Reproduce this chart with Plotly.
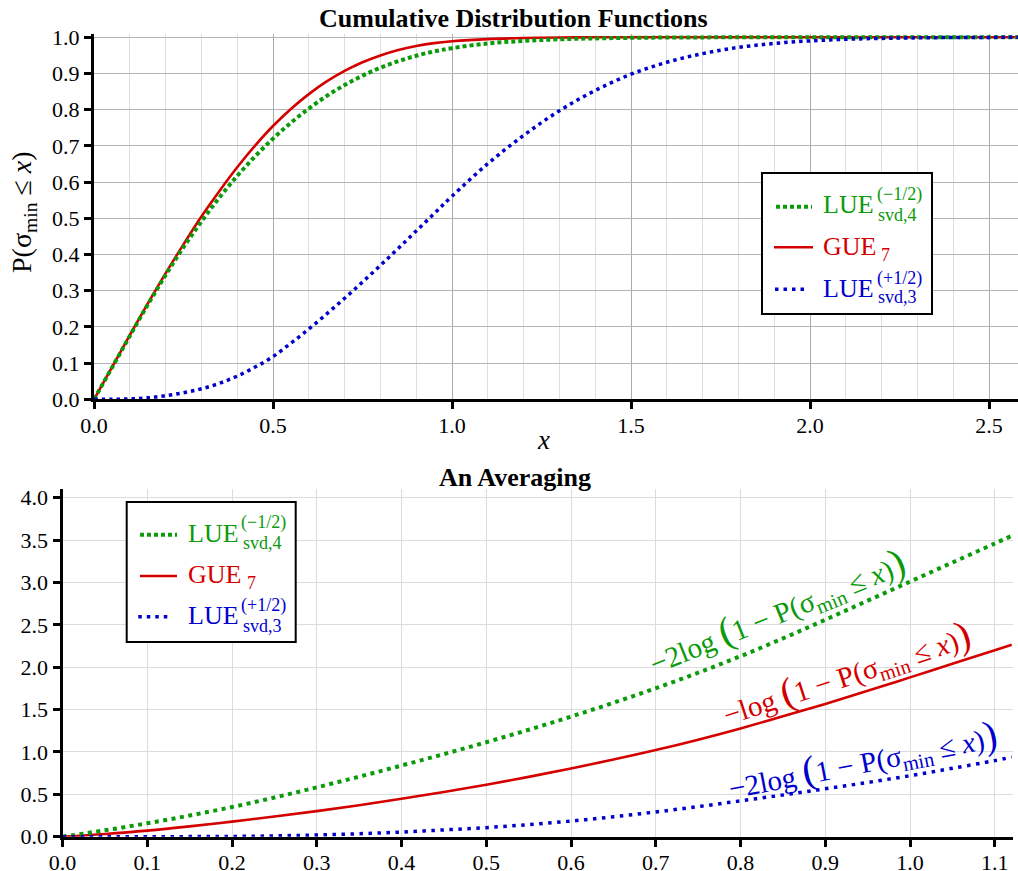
import plotly.graph_objects as go

W, H = 1018, 871
FONT = "Liberation Serif, Times New Roman, Times, serif"
TICKFONT = "serif"
GREEN = "#0a9a0a"
RED = "#d40000"
BLUE = "#0000cc"

# ---------------- data: cumulative distribution functions ----------------
x_cdf = [0.0, 0.05, 0.1, 0.15, 0.2, 0.25, 0.3, 0.35, 0.4, 0.45, 0.5, 0.55, 0.6,
         0.65, 0.7, 0.75, 0.8, 0.85, 0.9, 0.95, 1.0, 1.1, 1.2, 1.3, 1.4, 1.5,
         1.6, 1.7, 1.8, 1.9, 2.0, 2.1, 2.2, 2.3, 2.4, 2.5, 2.6]
p_gue7 = [0.0, 0.088, 0.177, 0.264, 0.348, 0.428, 0.505, 0.575, 0.641, 0.701,
          0.755, 0.802, 0.843, 0.878, 0.907, 0.931, 0.950, 0.965, 0.976, 0.984,
          0.989, 0.995, 0.998, 0.9993, 1.0, 1.0, 1.0, 1.0, 1.0, 1.0, 1.0, 1.0,
          1.0, 1.0, 1.0, 1.0, 1.0]
p_lue_m = [0.0, 0.087, 0.175, 0.261, 0.343, 0.420, 0.491, 0.557, 0.617, 0.671,
           0.720, 0.764, 0.803, 0.838, 0.868, 0.894, 0.916, 0.934, 0.949, 0.961,
           0.970, 0.983, 0.990, 0.9945, 0.997, 0.9985, 0.9993, 0.9997, 1.0, 1.0,
           1.0, 1.0, 1.0, 1.0, 1.0, 1.0, 1.0]
p_lue_p = [0.0, 0.0, 0.001, 0.004, 0.010, 0.018, 0.029, 0.044, 0.064, 0.089,
           0.118, 0.155, 0.194, 0.236, 0.279, 0.324, 0.370, 0.417, 0.465, 0.513,
           0.561, 0.651, 0.729, 0.797, 0.853, 0.898, 0.931, 0.955, 0.972, 0.983,
           0.990, 0.9945, 0.997, 0.9985, 0.9993, 0.9997, 1.0]

# ---------------- data: an averaging ----------------
x_avg = [0.0, 0.05, 0.1, 0.15, 0.2, 0.25, 0.3, 0.35, 0.4, 0.45, 0.5, 0.55, 0.6,
         0.65, 0.7, 0.75, 0.8, 0.85, 0.9, 0.95, 1.0, 1.05, 1.1, 1.12]
a_lue_m = [0.0, 0.075, 0.158, 0.25, 0.350, 0.462, 0.582, 0.708, 0.840, 0.975,
           1.115, 1.262, 1.417, 1.58, 1.752, 1.935, 2.13, 2.34, 2.56, 2.785,
           3.01, 3.235, 3.46, 3.55]
a_gue7 = [0.0, 0.032, 0.072, 0.122, 0.178, 0.238, 0.302, 0.372, 0.447, 0.527,
          0.613, 0.706, 0.805, 0.91, 1.022, 1.145, 1.278, 1.42, 1.567, 1.722,
          1.88, 2.04, 2.20, 2.264]
a_lue_p = [0.0, 0.0, 0.0, 0.001, 0.003, 0.009, 0.02, 0.035, 0.055, 0.08,
           0.107, 0.143, 0.185, 0.235, 0.292, 0.355, 0.423, 0.492, 0.565, 0.64,
           0.72, 0.807, 0.898, 0.94]

tick_fmt = ".1f"


def px(p):
    return p / W


def py(p):
    return 1 - p / H


fig = go.Figure()

# top panel
fig.add_trace(go.Scatter(x=x_cdf, y=p_gue7, mode="lines", line_shape="spline",
                         line=dict(color=RED, width=2.6), xaxis="x", yaxis="y"))
fig.add_trace(go.Scatter(x=x_cdf, y=p_lue_m, mode="lines", line_shape="spline",
                         line=dict(color=GREEN, width=4, dash="4px,3px"), xaxis="x", yaxis="y"))
fig.add_trace(go.Scatter(x=x_cdf, y=p_lue_p, mode="lines", line_shape="spline",
                         line=dict(color=BLUE, width=3.5, dash="3.5px,4px"), xaxis="x", yaxis="y"))

# bottom panel
fig.add_trace(go.Scatter(x=x_avg, y=a_gue7, mode="lines", line_shape="spline",
                         line=dict(color=RED, width=2.6), xaxis="x2", yaxis="y2"))
fig.add_trace(go.Scatter(x=x_avg, y=a_lue_m, mode="lines", line_shape="spline",
                         line=dict(color=GREEN, width=4, dash="4px,4.5px"), xaxis="x2", yaxis="y2"))
fig.add_trace(go.Scatter(x=x_avg, y=a_lue_p, mode="lines", line_shape="spline",
                         line=dict(color=BLUE, width=3.5, dash="3.5px,5.5px"), xaxis="x2", yaxis="y2"))

tickfont = dict(family=TICKFONT, size=22, color="black")
common = dict(showline=True, linecolor="black", linewidth=3, ticks="outside",
              ticklen=7, tickwidth=2.5, tickcolor="black", tickfont=tickfont,
              zeroline=False, tickformat=tick_fmt, automargin=False)

fig.update_layout(
    template="none",
    font=dict(family=TICKFONT, size=22, color="black"),
    width=W, height=H, margin=dict(l=0, r=0, t=0, b=0, pad=0, autoexpand=False),
    paper_bgcolor="white", plot_bgcolor="white", showlegend=False,
    xaxis=dict(domain=[px(94), 1.0], range=[0, 2.581], tick0=0, dtick=0.5,
               anchor="y", showgrid=True, gridcolor="#ababab", gridwidth=1.2,
               minor=dict(dtick=0.1, showgrid=True, gridcolor="#dedede", gridwidth=1),
               ticklabelstandoff=-3, **common),
    yaxis=dict(domain=[py(399.3), py(34.4)], range=[0, 1.008], tick0=0, dtick=0.1,
               anchor="x", showgrid=True, gridcolor="#b4b4b4", gridwidth=1.2,
               **common),
    xaxis2=dict(domain=[px(62.5), px(1013)], range=[0, 1.1215], tick0=0, dtick=0.1,
                anchor="y2", showgrid=True, gridcolor="#dcdcdc", gridwidth=1.2,
                ticklabelstandoff=-3, **common),
    yaxis2=dict(domain=[py(836.7), py(489)], range=[0, 4.103], tick0=0, dtick=0.5,
                anchor="x2", showgrid=True, gridcolor="#dcdcdc", gridwidth=1.2,
                **common),
)

shapes = []
annotations = []


def text(x, y, s, size, color="black", xanchor="left", yanchor="middle", angle=0,
         ref="paper", weight="normal"):
    d = dict(x=x, y=y, text=s, showarrow=False, xanchor=xanchor, yanchor=yanchor,
             font=dict(family=FONT, size=size, color=color, weight=weight), textangle=angle)
    if ref == "paper":
        d.update(xref="paper", yref="paper")
    else:
        d.update(xref="x2", yref="y2")
    annotations.append(d)


# titles
text(px(513.5), py(18.5), "Cumulative Distribution Functions", 26, xanchor="center", weight="bold")
text(px(514.5), py(477), "An Averaging", 26, xanchor="center", weight="bold")
text(px(24), py(212), "P(σ<sub>min</sub> ≤ <i>x</i>)", 28, xanchor="center", angle=-90)
text(px(543.5), py(440), "<i>x</i>", 27, xanchor="center")


def legend(box, rows):
    x0, y0, x1, y1 = box
    shapes.append(dict(type="rect", xref="paper", yref="paper", x0=px(x0), x1=px(x1),
                       y0=py(y1), y1=py(y0), line=dict(color="black", width=2),
                       fillcolor="white", layer="above"))
    for r in rows:
        (sx0, sx1, sy), color, dash, width, main, mx, my, extras = r
        shapes.append(dict(type="line", xref="paper", yref="paper", x0=px(sx0), x1=px(sx1),
                           y0=py(sy), y1=py(sy), line=dict(color=color, width=width, dash=dash)))
        text(px(mx), py(my), main, 26, color)
        for (ex, ey, es) in extras:
            text(px(ex), py(ey), es, 18, color)


legend((762, 173, 932, 314), [
    ((776, 812, 206.7), GREEN, "4px,3px", 4, "LUE", 821, 204,
     [(875, 195, "(−1/2)"), (876, 215, "svd,4")]),
    ((774, 813, 247.3), RED, "solid", 2.6, "GUE", 821, 246.5, [(879, 255, "7")]),
    ((775, 805, 289.3), BLUE, "3.5px,5px", 3.5, "LUE", 821, 288.5,
     [(875, 278.5, "(+1/2)"), (876, 297, "svd,3")]),
])
legend((126.7, 502, 295.7, 642), [
    ((140, 177, 534.7), GREEN, "4px,3px", 4, "LUE", 186, 533.3,
     [(238.5, 522.5, "(−1/2)"), (240.5, 543, "svd,4")]),
    ((140, 177, 576), RED, "solid", 2.6, "GUE", 186, 574.7, [(245, 583.3, "7")]),
    ((138.3, 170.7, 616.7), BLUE, "3.5px,5px", 3.5, "LUE", 186, 615.3,
     [(238.5, 605.3, "(+1/2)"), (240.5, 626, "svd,3")]),
])

BIG = "<span style='font-size:40px'>(</span>"
BIGC = "<span style='font-size:40px'>)</span>"
lab = "log " + BIG + "1 − P(σ<sub>min</sub> ≤ <i>x</i>)" + BIGC
text(0.843, 2.66, "−2" + lab, 29, GREEN, xanchor="center", angle=-22, ref="data")
text(0.925, 1.93, "−" + lab, 29, RED, xanchor="center", angle=-18, ref="data")
text(0.944, 0.90, "−2" + lab, 29, BLUE, xanchor="center", angle=-11, ref="data")

fig.update_layout(shapes=shapes, annotations=annotations)
fig.write_html("out.html", config={"displayModeBar": False},
               post_script="document.body.style.margin='0px';")
